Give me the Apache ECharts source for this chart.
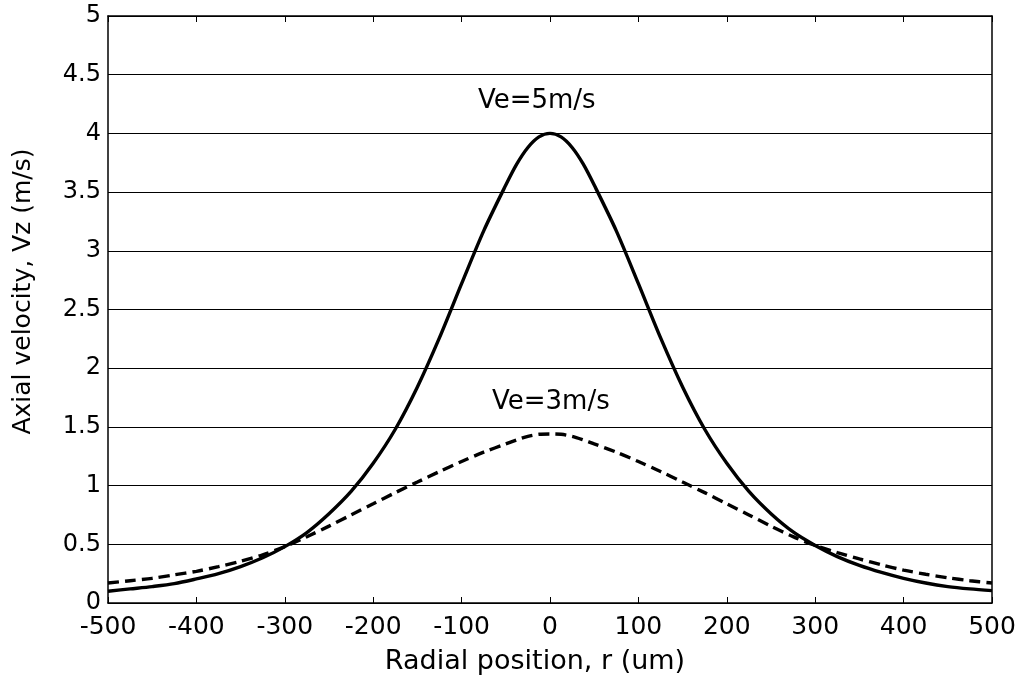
<!DOCTYPE html>
<html>
<head>
<meta charset="utf-8">
<script src="https://cdn.jsdelivr.net/npm/echarts@6/dist/echarts.min.js"></script>
<style>html,body{margin:0;padding:0;background:#fff}#c{width:1029px;height:682px}</style>
</head>
<body>
<div id="c"></div>
<script>
// Radial positions (um)
var radius = [-500,-475,-450,-425,-400,-375,-350,-325,-300,-275,-250,-225,-200,-175,-150,-125,-100,-75,-50,-37.5,-25,-12.5,0,12.5,25,37.5,50,75,100,125,150,175,200,225,250,275,300,325,350,375,400,425,450,475,500];
// Ve = 5 m/s (solid)
var ve5 = [0.10,0.12,0.14,0.165,0.205,0.25,0.31,0.385,0.48,0.60,0.76,0.95,1.19,1.48,1.84,2.26,2.72,3.17,3.56,3.74,3.88,3.97,4.00,3.97,3.88,3.74,3.56,3.17,2.72,2.26,1.84,1.48,1.19,0.95,0.76,0.605,0.49,0.395,0.32,0.26,0.21,0.17,0.14,0.12,0.105];
// Ve = 3 m/s (dashed)
var ve3 = [0.17,0.19,0.21,0.24,0.27,0.31,0.355,0.41,0.48,0.565,0.655,0.75,0.845,0.94,1.03,1.12,1.205,1.285,1.355,1.39,1.42,1.437,1.44,1.437,1.42,1.39,1.355,1.285,1.205,1.12,1.03,0.94,0.845,0.75,0.655,0.565,0.49,0.43,0.375,0.325,0.28,0.245,0.215,0.19,0.17];
// Annotation labels and their data positions [r, v]
var annoText = ['Ve=5m/s','Ve=3m/s'];
var annoPos = [[-15,4.27],[1,1.71]];

var font = 'DejaVu Sans';
function pairs(xs, ys){ return xs.map(function(x,i){return [x, ys[i]];}); }

var chart = echarts.init(document.getElementById('c'));
chart.setOption({
  backgroundColor:'#fff',
  animation:false,
  grid:{left:108,right:37,top:16,bottom:79,containLabel:false},
  xAxis:[{
    type:'value',min:-500,max:500,interval:100,position:'bottom',
    name:'Radial position, r (um)',nameLocation:'middle',nameGap:45,
    nameTextStyle:{fontFamily:font,fontSize:27,color:'#000',padding:[0,30,0,0]},
    axisLine:{onZero:false,lineStyle:{color:'#000',width:1.5}},
    axisTick:{inside:true,length:6,lineStyle:{color:'#000'}},
    axisLabel:{fontFamily:font,fontSize:25,color:'#000',margin:12},
    splitLine:{show:false}
  },{
    type:'value',min:-500,max:500,interval:100,position:'top',
    axisLine:{onZero:false,lineStyle:{color:'#000',width:1.5}},
    axisTick:{inside:true,length:6,lineStyle:{color:'#000'}},
    axisLabel:{show:false},splitLine:{show:false}
  }],
  yAxis:[{
    type:'value',min:0,max:5,interval:0.5,position:'left',
    name:'Axial velocity, Vz (m/s)',nameLocation:'middle',nameGap:72,
    nameTextStyle:{fontFamily:font,fontSize:25,color:'#000',padding:[0,0,0,36]},
    axisLine:{onZero:false,lineStyle:{color:'#000',width:1.5}},
    axisTick:{inside:true,length:6,lineStyle:{color:'#000'}},
    axisLabel:{fontFamily:font,fontSize:24,color:'#000',margin:7},
    splitLine:{show:true,lineStyle:{color:'#000',width:1.2}}
  },{
    type:'value',min:0,max:5,interval:0.5,position:'right',
    axisLine:{onZero:false,lineStyle:{color:'#000',width:1.5}},
    axisTick:{inside:true,length:6,lineStyle:{color:'#000'}},
    axisLabel:{show:false},splitLine:{show:false}
  }],
  series:[{
    name:'Ve=5m/s',type:'line',smooth:0.3,symbol:'none',
    data:pairs(radius, ve5),
    lineStyle:{color:'#000',width:3.4,type:'solid'}
  },{
    name:'Ve=3m/s',type:'line',smooth:0.3,symbol:'none',
    data:pairs(radius, ve3),
    lineStyle:{color:'#000',width:3.4,type:[11,6]}
  },{
    type:'scatter',symbolSize:0,silent:true,
    itemStyle:{opacity:1,color:'#000'},
    data:annoPos.map(function(p,i){return {value:p,label:{formatter:annoText[i]}};}),
    label:{show:true,position:'inside',fontFamily:font,fontSize:26,color:'#000',textBorderWidth:0}
  }]
});
</script>
</body>
</html>
